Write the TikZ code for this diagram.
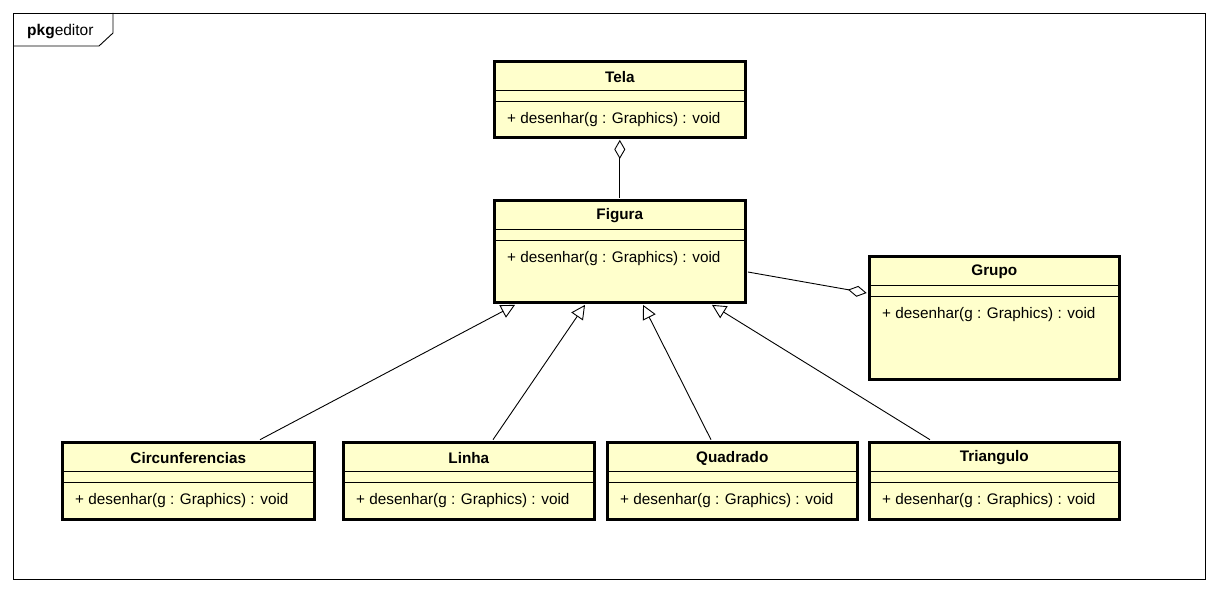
\documentclass[tikz,border=0pt]{standalone}
\usepackage{fontspec}
\setmainfont{Liberation Sans}
\usetikzlibrary{arrows.meta,calc}
\definecolor{umlfill}{RGB}{255,255,204}
\tikzset{
  umlbox/.style={draw=black, line width=2.6pt, fill=umlfill, inner sep=0pt, anchor=north west},
  divider/.style={draw=black, line width=0.8pt},
  title/.style={font=\fontsize{15.3}{17}\selectfont\bfseries, inner sep=0pt},
  method/.style={font=\fontsize{15.3}{17}\selectfont, inner sep=0pt, anchor=west},
  conn/.style={draw=black, line width=0.9pt},
  agg/.style={conn, {Diamond[open, length=19pt, width=11pt, line width=0.9pt]}-},
  gen/.style={conn, -{Triangle[open, length=14pt, width=14pt, line width=0.9pt]}},
}
\newcommand{\umlclass}[6]{%
  % name, x, y, width, height, title
  \node[umlbox, minimum width=#4pt, minimum height=#5pt] (#1) at (#2,#3) {};
  \node[title] (#1-t) at ($(#1.north)+(0,17)$) {#6};
  \draw[divider] ($(#1.north west)+(0,30.5)$) -- ($(#1.north east)+(0,30.5)$);
  \draw[divider] ($(#1.north west)+(0,41.5)$) -- ($(#1.north east)+(0,41.5)$);
  \node[method] (#1-m) at ($(#1.north west)+(14,60)$) {+ desenhar(g : Graphics) : void};
}
\begin{document}
\begin{tikzpicture}[x=1pt, y=-1pt]
\useasboundingbox (0,0) rectangle (1218,593);
\fill[white] (0,0) rectangle (1218,593);
% package frame
\draw[line width=0.9pt] (13,13) rectangle (1205,579);
\draw[line width=0.9pt] (13,46) -- (99,46) -- (113,33) -- (113,13);
\node[anchor=west, inner sep=0pt, font=\fontsize{15.5}{17}\selectfont] (pkg) at (27,31.5) {\textbf{pkg}editor};

\umlclass{tela}{493}{60}{251}{76}{Tela}
\umlclass{figura}{493}{199}{251}{102}{Figura}
\umlclass{grupo}{868}{255}{250}{123}{Grupo}
\umlclass{circ}{61}{441}{252}{77}{Circunferencias}
\umlclass{linha}{342}{441}{251}{77}{Linha}
\umlclass{quad}{606}{441}{250}{77}{Quadrado}
\umlclass{tri}{868}{441}{250}{77}{Triangulo}

% aggregations
\draw[agg] ($(tela.south)+(0,1.3)$) -- ($(figura.north)+(0,-1.3)$);
\draw[agg] ($(grupo.north west)+(-1.3,38)$) -- ($(figura.north east)+(1.3,73)$);

% generalizations
\draw[gen] ($(circ.north west)+(199,-1.3)$) -- ($(figura.south west)+(22,1.3)$);
\draw[gen] ($(linha.north west)+(151,-1.3)$) -- ($(figura.south west)+(92,1.3)$);
\draw[gen] ($(quad.north west)+(105,-1.3)$) -- ($(figura.south west)+(150,1.3)$);
\draw[gen] ($(tri.north west)+(62,-1.3)$) -- ($(figura.south west)+(219,1.3)$);
\end{tikzpicture}
\end{document}
